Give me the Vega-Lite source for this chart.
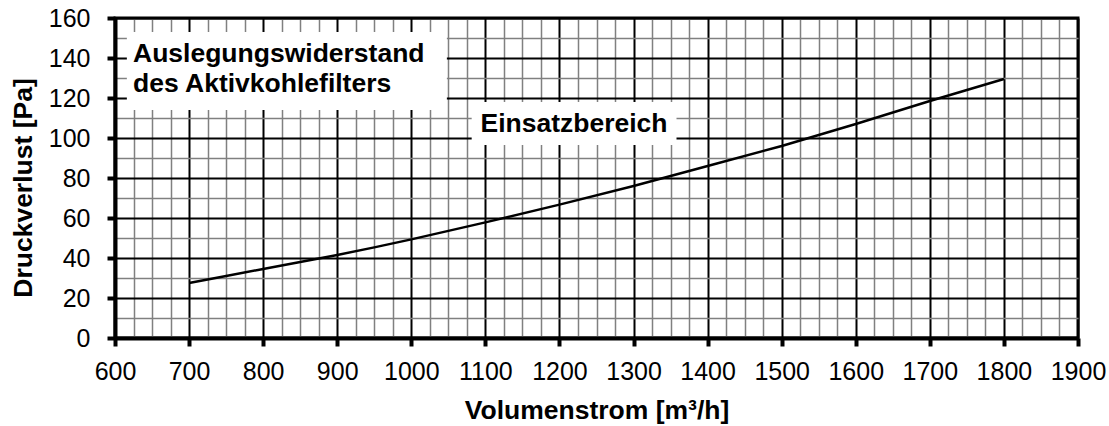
{
  "$schema": "https://vega.github.io/schema/vega-lite/v6.json",
  "width": 963,
  "height": 320,
  "autosize": "none",
  "padding": {"left": 115, "top": 18, "right": 31, "bottom": 88},
  "background": "#ffffff",
  "config": {
    "view": {"stroke": "#000000", "strokeWidth": 3},
    "font": "Liberation Sans",
    "axis": {"labelFont": "Liberation Sans", "titleFont": "Liberation Sans", "labelColor": "#000000", "titleColor": "#000000"}
  },
  "datasets": {
    "curve": [
      {"flow": 700, "dp": 27.5},
      {"flow": 750, "dp": 31},
      {"flow": 800, "dp": 34.5},
      {"flow": 850, "dp": 38},
      {"flow": 900, "dp": 41.5},
      {"flow": 950, "dp": 45.3},
      {"flow": 1000, "dp": 49.3},
      {"flow": 1100, "dp": 57.8},
      {"flow": 1200, "dp": 66.7},
      {"flow": 1300, "dp": 76},
      {"flow": 1400, "dp": 86},
      {"flow": 1500, "dp": 96},
      {"flow": 1600, "dp": 107},
      {"flow": 1700, "dp": 118.5},
      {"flow": 1800, "dp": 129.5}
    ],
    "boxes": [
      {"x1": 616, "x2": 1048, "y1": 114, "y2": 153},
      {"x1": 1081.5, "x2": 1358, "y1": 96.5, "y2": 118}
    ],
    "labels": [
      {"x": 624.3, "y": 138.2, "label": "Auslegungswiderstand\ndes Aktivkohlefilters", "anchor": "left"},
      {"x": 1219.6, "y": 103, "label": "Einsatzbereich", "anchor": "center"}
    ]
  },
  "resolve": {"axis": {"x": "independent", "y": "independent"}},
  "layer": [
    {
      "data": {"name": "curve"},
      "mark": {"type": "line", "strokeOpacity": 0},
      "encoding": {
        "x": {
          "field": "flow", "type": "quantitative",
          "scale": {"domain": [600, 1900], "nice": false, "zero": false},
          "axis": {
            "orient": "bottom",
            "values": [625,650,675,725,750,775,825,850,875,925,950,975,1025,1050,1075,1125,1150,1175,1225,1250,1275,1325,1350,1375,1425,1450,1475,1525,1550,1575,1625,1650,1675,1725,1750,1775,1825,1850,1875],
            "grid": true, "gridColor": "#808080", "gridWidth": 1.5, "gridOpacity": 1,
            "domain": false, "ticks": false, "labels": false, "title": null
          }
        },
        "y": {
          "field": "dp", "type": "quantitative",
          "scale": {"domain": [0, 160], "nice": false, "zero": true},
          "axis": {
            "orient": "left",
            "values": [10,30,50,70,90,110,130,150],
            "grid": true, "gridColor": "#808080", "gridWidth": 1.5, "gridOpacity": 1,
            "domain": false, "ticks": false, "labels": false, "title": null
          }
        }
      }
    },
    {
      "data": {"name": "boxes"},
      "mark": {"type": "rect", "fill": "#ffffff", "stroke": null},
      "encoding": {
        "x": {"field": "x1", "type": "quantitative", "axis": null},
        "x2": {"field": "x2"},
        "y": {"field": "y1", "type": "quantitative", "axis": null},
        "y2": {"field": "y2"}
      }
    },
    {
      "data": {"name": "labels"},
      "transform": [{"filter": "datum.anchor == 'left'"}],
      "mark": {"type": "text", "align": "left", "baseline": "alphabetic", "fontSize": 26.5, "fontWeight": "bold", "font": "Liberation Sans", "color": "#000000", "lineBreak": "\n", "lineHeight": 30},
      "encoding": {
        "x": {"field": "x", "type": "quantitative", "axis": null},
        "y": {"field": "y", "type": "quantitative", "axis": null},
        "text": {"field": "label", "type": "nominal"}
      }
    },
    {
      "data": {"name": "labels"},
      "transform": [{"filter": "datum.anchor == 'center'"}],
      "mark": {"type": "text", "align": "center", "baseline": "alphabetic", "fontSize": 26.5, "fontWeight": "bold", "font": "Liberation Sans", "color": "#000000"},
      "encoding": {
        "x": {"field": "x", "type": "quantitative", "axis": null},
        "y": {"field": "y", "type": "quantitative", "axis": null},
        "text": {"field": "label", "type": "nominal"}
      }
    },
    {
      "data": {"name": "curve"},
      "mark": {"type": "line", "color": "#000000", "strokeWidth": 2.5},
      "encoding": {
        "x": {
          "field": "flow", "type": "quantitative",
          "axis": {
            "orient": "bottom",
            "values": [600,700,800,900,1000,1100,1200,1300,1400,1500,1600,1700,1800,1900],
            "format": "d",
            "grid": true, "gridColor": "#000000", "gridWidth": 2, "gridOpacity": 1,
            "domain": true, "domainColor": "#000000", "domainWidth": 4,
            "ticks": true, "tickColor": "#000000", "tickWidth": 4, "tickSize": 8,
            "labelFontSize": 25, "labelPadding": 13, "labelFlush": false, "labelOverlap": false,
            "title": "Volumenstrom [m³/h]", "titleFontSize": 26.5, "titleFontWeight": "bold",
            "titleX": 481.5, "titleY": 80, "titleBaseline": "alphabetic", "titleAlign": "center"
          }
        },
        "y": {
          "field": "dp", "type": "quantitative",
          "axis": {
            "orient": "left",
            "values": [0,20,40,60,80,100,120,140,160],
            "format": "d",
            "grid": true, "gridColor": "#000000", "gridWidth": 2, "gridOpacity": 1,
            "domain": true, "domainColor": "#000000", "domainWidth": 4,
            "ticks": true, "tickColor": "#000000", "tickWidth": 4, "tickSize": 8,
            "labelFontSize": 25, "labelPadding": 17, "labelFlush": false, "labelOverlap": false,
            "title": "Druckverlust [Pa]", "titleFontSize": 26.5, "titleFontWeight": "bold",
            "titleAngle": -90, "titleX": -84, "titleY": 169.5, "titleBaseline": "alphabetic", "titleAlign": "center"
          }
        }
      }
    }
  ]
}
